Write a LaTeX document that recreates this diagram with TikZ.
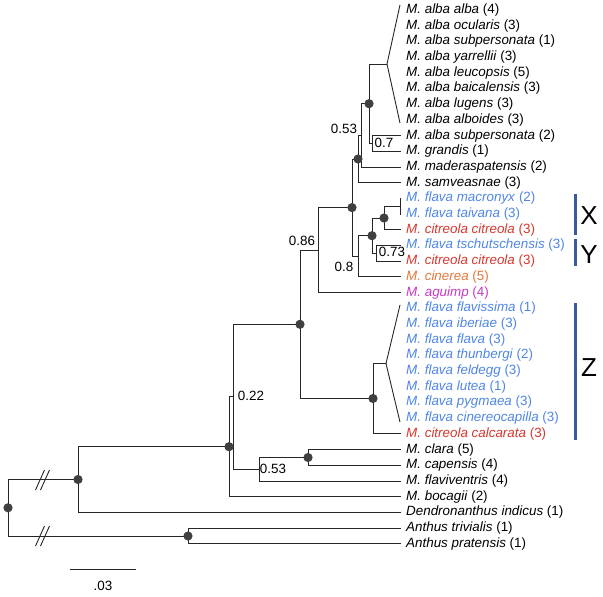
\documentclass[tikz,border=0pt]{standalone}
\usepackage{fontspec}
\setmainfont{Liberation Sans}
\usetikzlibrary{positioning}
\definecolor{flavablue}{HTML}{4F86E6}
\definecolor{citred}{HTML}{D6372F}
\definecolor{cinorange}{HTML}{E2783A}
\definecolor{aguimpmag}{HTML}{C63AC6}
\definecolor{barblue}{HTML}{3A5A98}
\definecolor{dotgray}{HTML}{404040}
\tikzset{
    branch/.style={line width=1pt, black!85},
    clade/.style={line width=0.9pt, black!85},
    leaf/.style={anchor=west, inner xsep=5pt, inner ysep=1pt, font=\fontsize{13.4}{15}\selectfont},
    boot/.style={inner sep=0pt, font=\fontsize{13.4}{15}\selectfont},
    knot/.style={fill=dotgray},
    bracket/.style={line width=3pt, barblue},
    group/.style={font=\fontsize{26}{28}\selectfont}
}

\begin{document}
\begin{tikzpicture}[x=1pt, y=-1pt]
                \useasboundingbox (0,0) rectangle (603,597);
                % leaves
                \node[leaf] (albaalba) at (401,10) {\textit{M. alba alba} (4)};
                \node[leaf] (ocularis) at (401,25.7) {\textit{M. alba ocularis} (3)};
                \node[leaf] (subpers1) at (401,41.4) {\textit{M. alba subpersonata} (1)};
                \node[leaf] (yarrellii) at (401,57.1) {\textit{M. alba yarrellii} (3)};
                \node[leaf] (leucopsis) at (401,72.8) {\textit{M. alba leucopsis} (5)};
                \node[leaf] (baicalensis) at (401,88.5) {\textit{M. alba baicalensis} (3)};
                \node[leaf] (lugens) at (401,104.2) {\textit{M. alba lugens} (3)};
                \node[leaf] (alboides) at (401,119.9) {\textit{M. alba alboides} (3)};
                \node[leaf] (subpers2) at (401,135.6) {\textit{M. alba subpersonata} (2)};
                \node[leaf] (grandis) at (401,151.3) {\textit{M. grandis} (1)};
                \node[leaf] (maderas) at (401,167) {\textit{M. maderaspatensis} (2)};
                \node[leaf] (samveasnae) at (401,182.7) {\textit{M. samveasnae} (3)};
                \node[leaf, flavablue] (macronyx) at (401,198.4) {\textit{M. flava macronyx} (2)};
                \node[leaf, flavablue] (taivana) at (401,214.1) {\textit{M. flava taivana} (3)};
                \node[leaf, citred] (citreola1) at (401,229.8) {\textit{M. citreola citreola} (3)};
                \node[leaf, flavablue] (tschut) at (401,245.5) {\textit{M. flava tschutschensis} (3)};
                \node[leaf, citred] (citreola2) at (401,261.2) {\textit{M. citreola citreola} (3)};
                \node[leaf, cinorange] (cinerea) at (401,276.9) {\textit{M. cinerea} (5)};
                \node[leaf, aguimpmag] (aguimp) at (401,292.6) {\textit{M. aguimp} (4)};
                \node[leaf, flavablue] (flavissima) at (401,308.3) {\textit{M. flava flavissima} (1)};
                \node[leaf, flavablue] (iberiae) at (401,324) {\textit{M. flava iberiae} (3)};
                \node[leaf, flavablue] (flavaflava) at (401,339.7) {\textit{M. flava flava} (3)};
                \node[leaf, flavablue] (thunbergi) at (401,355.4) {\textit{M. flava thunbergi} (2)};
                \node[leaf, flavablue] (feldegg) at (401,371.1) {\textit{M. flava feldegg} (3)};
                \node[leaf, flavablue] (lutea) at (401,386.8) {\textit{M. flava lutea} (1)};
                \node[leaf, flavablue] (pygmaea) at (401,402.5) {\textit{M. flava pygmaea} (3)};
                \node[leaf, flavablue] (cinereocap) at (401,418.2) {\textit{M. flava cinereocapilla} (3)};
                \node[leaf, citred] (calcarata) at (401,433.9) {\textit{M. citreola calcarata} (3)};
                \node[leaf] (clara) at (401,449.6) {\textit{M. clara} (5)};
                \node[leaf] (capensis) at (401,465.3) {\textit{M. capensis} (4)};
                \node[leaf] (flaviventris) at (401,481) {\textit{M. flaviventris} (4)};
                \node[leaf] (bocagii) at (401,496.7) {\textit{M. bocagii} (2)};
                \node[leaf] (dendro) at (401,512.4) {\textit{Dendronanthus indicus} (1)};
                \node[leaf] (trivialis) at (401,528.1) {\textit{Anthus trivialis} (1)};
                \node[leaf] (pratensis) at (401,543.8) {\textit{Anthus pratensis} (1)};

                % inner nodes
                \coordinate (root) at (8,507.8);
                \coordinate (outer) at (78,479.5);
                \coordinate (anthus) at (188,536);
                \coordinate (motac) at (229,446.7);
                \coordinate (core) at (233,396.7);
                \coordinate (african) at (259,469.2);
                \coordinate (claracap) at (308,457.5);
                \coordinate (big) at (300,324.3);
                \coordinate (yellow) at (373,398.5);
                \coordinate (flavatip) at (386,363.5);
                \coordinate (flavatop) at (400,305);
                \coordinate (flavabot) at (400,422);
                \coordinate (upper) at (318,250.1);
                \coordinate (split) at (352,207.6);
                \coordinate (white) at (358,159);
                \coordinate (whitein) at (361,135.4);
                \coordinate (alba) at (369,103.7);
                \coordinate (albatip) at (387,64);
                \coordinate (albatop) at (400,5);
                \coordinate (albabot) at (400,123);
                \coordinate (grandpair) at (372,143.45);
                \coordinate (eastern) at (358,256.3);
                \coordinate (citrin) at (372,235.7);
                \coordinate (xgroup) at (384,218);
                \coordinate (xpair) at (400,206.25);
                \coordinate (ypair) at (376,253.35);

                % branches
                \draw[branch] (root) |- (outer);
                \draw[branch] (root) |- (anthus);
                \draw[branch] (anthus) |- (trivialis);
                \draw[branch] (anthus) |- (pratensis);
                \draw[branch] (outer) |- (motac);
                \draw[branch] (outer) |- (dendro);
                \draw[branch] (motac) |- (core);
                \draw[branch] (motac) |- (bocagii);
                \draw[branch] (core) |- (big);
                \draw[branch] (core) |- (african);
                \draw[branch] (african) |- (claracap);
                \draw[branch] (african) |- (flaviventris);
                \draw[branch] (claracap) |- (clara);
                \draw[branch] (claracap) |- (capensis);
                \draw[branch] (big) |- (upper);
                \draw[branch] (big) |- (yellow);
                \draw[branch] (yellow) |- (flavatip);
                \draw[branch] (yellow) |- (calcarata);
                \draw[branch] (upper) |- (split);
                \draw[branch] (upper) |- (aguimp);
                \draw[branch] (split) |- (white);
                \draw[branch] (split) |- (eastern);
                \draw[branch] (white) |- (whitein);
                \draw[branch] (white) |- (samveasnae);
                \draw[branch] (whitein) |- (alba);
                \draw[branch] (whitein) |- (maderas);
                \draw[branch] (alba) |- (albatip);
                \draw[branch] (alba) |- (grandpair);
                \draw[branch] (grandpair) |- (subpers2);
                \draw[branch] (grandpair) |- (grandis);
                \draw[branch] (eastern) |- (citrin);
                \draw[branch] (eastern) |- (cinerea);
                \draw[branch] (citrin) |- (xgroup);
                \draw[branch] (citrin) |- (ypair);
                \draw[branch] (xgroup) |- (xpair);
                \draw[branch] (xgroup) |- (citreola1);
                \draw[branch] (xpair) |- (macronyx);
                \draw[branch] (xpair) |- (taivana);
                \draw[branch] (ypair) |- (tschut);
                \draw[branch] (ypair) |- (citreola2);

                % collapsed clades
                \draw[clade] (albatop) -- (albatip) -- (albabot);
                \draw[clade] (flavatop) -- (flavatip) -- (flavabot);

                % broken branches
                \draw[clade] (35.5,490) -- (44.5,470) (40.5,490) -- (49.5,470);
                \draw[clade] (35.5,546) -- (44.5,526) (40.5,546) -- (49.5,526);

                % support values
                \node[boot] (bwhite) at (344,129) {0.53};
                \node[boot] (bgrand) at (384,143) {0.7};
                \node[boot] (bupper) at (302,241) {0.86};
                \node[boot] (beast) at (344,267) {0.8};
                \node[boot] (bypair) at (392,252) {0.73};
                \node[boot] (bcore) at (251,396) {0.22};
                \node[boot] (bafr) at (273,469) {0.53};

                % dots
                \foreach \n in {root, outer, anthus, motac, claracap, big, yellow, split, white, alba, citrin, xgroup}
                    \fill[knot] (\n) circle (4.6pt);

                % groups
                \draw[bracket] (575,194) -- (575,235);
                \draw[bracket] (575,239) -- (575,266);
                \draw[bracket] (575,303) -- (575,440);
                \node[group] (grpX) at (589,216) {X};
                \node[group] (grpY) at (589,255) {Y};
                \node[group] (grpZ) at (589,368) {Z};

                % scale bar
                \coordinate (sbleft) at (70,569);
                \coordinate (sbright) at (136,569);
                \draw[clade] (sbleft) -- (sbright);
                \node[boot] (sblabel) at (103,586) {.03};
            \end{tikzpicture}
\end{document}
